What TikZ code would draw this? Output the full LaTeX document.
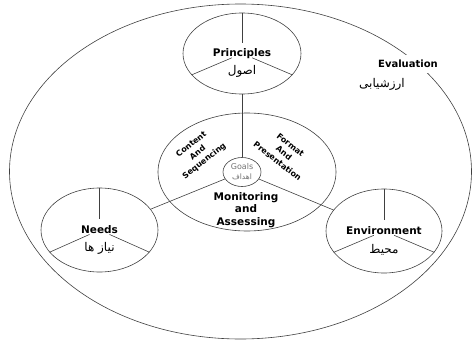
\documentclass[tikz,border=0pt]{standalone}
\usepackage{fontspec}
\setmainfont{DejaVu Sans}
\newfontfamily\arabicfont[Script=Arabic]{DejaVu Sans}
\TeXXeTstate=1
\usetikzlibrary{positioning,shapes.geometric}

\begin{document}
\begin{tikzpicture}
[x=1pt,y=-1pt,line width=0.6pt,
every edge/.style={draw=black!75},
lbl/.style={font=\bfseries\fontsize{10.5}{12.5}\selectfont,align=center,inner sep=0pt},
part/.style={draw=black!75,ellipse,lbl},
fa/.style={font=\arabicfont\fontsize{12}{13}\selectfont,inner sep=1pt},
side/.style={font=\bfseries\fontsize{8}{10.5}\selectfont,align=center,inner sep=0pt},
spoke/.style={draw=black!75,shorten >=11pt}]
\useasboundingbox (0,0) rectangle (472,340);
\node[part,minimum width=462pt,minimum height=335pt](eval) at (240.5,171.5){};
\node[part,minimum width=118pt,minimum height=81pt](prin) at (242,53.5){Principles};
\node[part,minimum width=117pt,minimum height=84pt](need) at (99.5,230){Needs};
\node[part,minimum width=116pt,minimum height=84pt](env) at (384,231){Environment};
\node[part,minimum width=178pt,minimum height=118pt](mid) at (247,172){};
\node[part,minimum width=38pt,minimum height=29pt](goal) at (242,172){};
\node[fa,below=11pt of prin.center](prinfa){\beginR اصول\endR};
\node[fa,below=11pt of need.center](needfa){\beginR نیاز ها\endR};
\node[fa,below=12pt of env.center](envfa){\beginR محیط\endR};
\node[lbl,font=\bfseries\fontsize{10}{12}\selectfont,fill=white,inner xsep=1pt,inner ysep=5pt](evaltxt) at (408,64){Evaluation};
\node[fa](evalfa) at (382,84){\beginR ارزشیابی\endR};
\node[lbl](mon) at (246,210){Monitoring\\and\\Assessing};
\node[side,rotate=38](cont) at (198,153){Content\\And\\Sequencing};
\node[side,rotate=-38](form) at (284,153){Format\\And\\Presentation};
\node[align=center,inner sep=0pt,text=black!55,font=\fontsize{8}{10}\selectfont](goaltxt) at (goal){Goals\\{\arabicfont\fontsize{7.5}{9}\selectfont\beginR اهداف\endR}};
\path (prin) edge (goal); \path (goal) edge (need); \path (goal) edge (env);
\path (prin.90) edge[spoke] (prin.center); \path (prin.203) edge[spoke] (prin.center);
\path (prin.337) edge[spoke] (prin.center);
\path (need.90) edge[spoke] (need.center); \path (need.204) edge[spoke] (need.center);
\path (need.336) edge[spoke] (need.center);
\path (env.90) edge[spoke] (env.center); \path (env.203) edge[spoke] (env.center);
\path (env.337) edge[spoke] (env.center);
\end{tikzpicture}
\end{document}
